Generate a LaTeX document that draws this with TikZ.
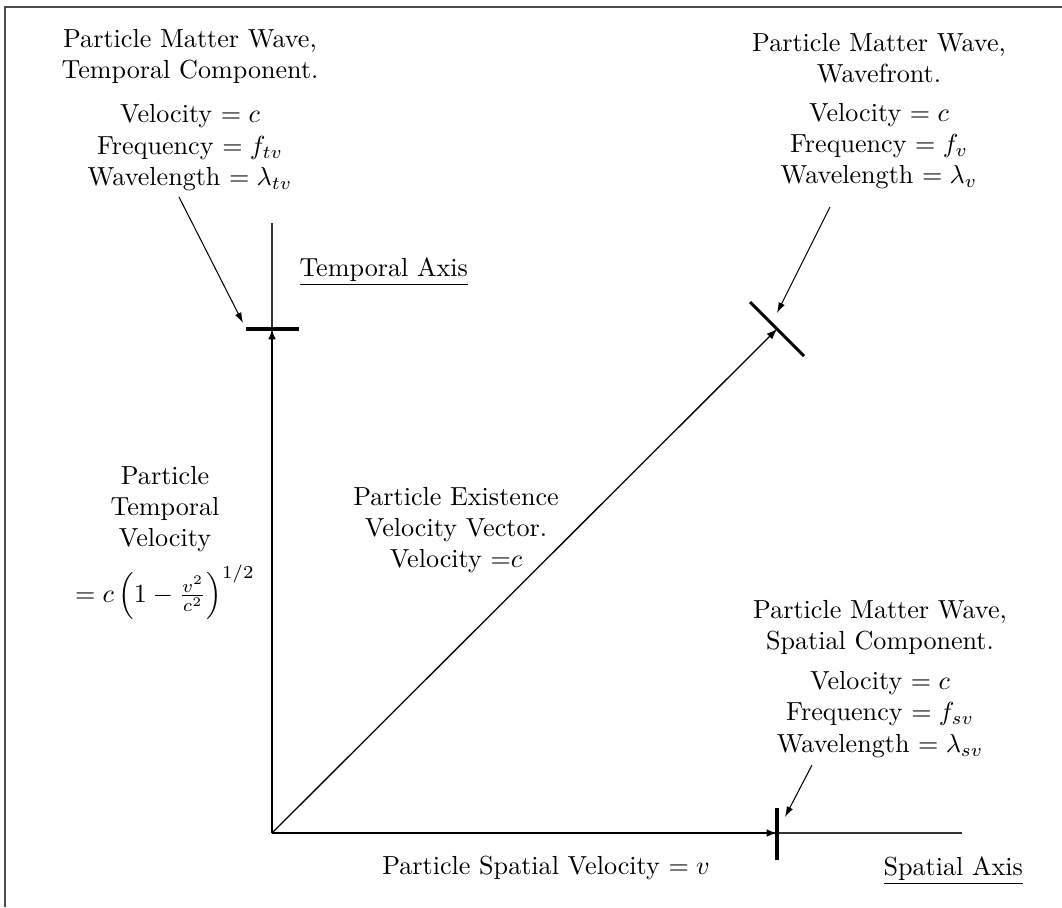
\documentclass[tikz,border=0pt]{standalone}
\usetikzlibrary{arrows.meta,calc}
\begin{document}
\begin{tikzpicture}[x=0.383pt,y=-0.383pt,
  lbl/.style={align=center,inner sep=0pt,anchor=north},
  plainlbl/.style={inner sep=0pt},
  axisline/.style={line width=0.4pt,black!80},
  velarrow/.style={line width=0.8pt,-{Latex[length=4pt,width=3pt]}},
  vecarrow/.style={line width=0.5pt,-{Latex[length=4pt,width=3pt]}},
  pointer/.style={line width=0.4pt,-{Latex[length=4pt,width=2.6pt]}},
  tickmark/.style={line width=1.2pt},
  frameline/.style={line width=0.5pt,black!70}]
\useasboundingbox (0,0) rectangle (1062,907);
\draw[frameline] (1062,7) -- (5,7) -- (5,907);

% key points
\coordinate (O) at (272,833);
\coordinate (Ttop) at (272,223);
\coordinate (Send) at (962,833);
\coordinate (T) at (272,329);
\coordinate (S) at (777,833);
\coordinate (V) at (777,329);

% axes
\draw[axisline] (O) -- (Ttop);
\draw[axisline] (O) -- (Send);

% velocity vectors
\draw[velarrow] (O) -- (T);
\draw[velarrow] (O) -- (S);
\draw[vecarrow] (O) -- (V);

% ticks (wave components)
\draw[tickmark] ($(T)+(-26,0)$) -- ($(T)+(27,0)$);
\draw[tickmark] ($(S)+(0,-25)$) -- ($(S)+(0,27)$);
\draw[tickmark] ($(V)+(-27,-27)$) -- ($(V)+(27,27)$);

% labels
\node[lbl] (tl) at (190,28.5) {Particle Matter Wave,\\Temporal Component.\\[5pt]Velocity $=c$\\Frequency $=f_{tv}$\\Wavelength $=\lambda_{tv}$};
\node[lbl] (tr) at (879,32.5) {Particle Matter Wave,\\Wavefront.\\[2.8pt]Velocity $=c$\\Frequency $=f_{v}$\\Wavelength $=\lambda_{v}$};
\node[lbl] (br) at (880,599.5) {Particle Matter Wave,\\Spatial Component.\\[3.3pt]Velocity $=c$\\Frequency $=f_{sv}$\\Wavelength $=\lambda_{sv}$};
\node[lbl] (mid) at (456,486.5) {Particle Existence\\Velocity Vector.\\Velocity =$c$};
\node[lbl] (lft) at (165,465.5) {Particle\\Temporal\\Velocity\\[4pt]$=c\left(1-\frac{v^2}{c^2}\right)^{1/2}$};
\node[plainlbl,anchor=base west] (taxis) at (299,276) {\underline{Temporal Axis}};
\node[plainlbl,anchor=base west] (saxis) at (883,875) {\underline{Spatial Axis}};
\node[plainlbl,anchor=base] (svel) at (546,874) {Particle Spatial Velocity $=v$};

% pointers
\coordinate (tlp) at (179,197);
\coordinate (tlq) at (243,323);
\coordinate (trp) at (830,207);
\coordinate (trq) at (777,313);
\coordinate (brp) at (812,765);
\coordinate (brq) at (785,817);
\draw[pointer] (tlp) -- (tlq);
\draw[pointer] (trp) -- (trq);
\draw[pointer] (brp) -- (brq);
\end{tikzpicture}
\end{document}
